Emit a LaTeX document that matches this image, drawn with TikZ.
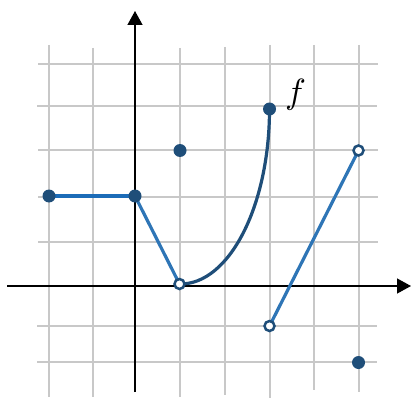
\documentclass[tikz,border=0pt]{standalone}
\usetikzlibrary{arrows.meta}
\definecolor{gridgray}{RGB}{200,200,200}
\definecolor{dotblue}{RGB}{31,78,121}
\definecolor{lineblue}{RGB}{28,108,184}
\definecolor{slopeblue}{RGB}{46,117,182}
\definecolor{curveblue}{RGB}{31,78,121}
\tikzset{
  gridline/.style={draw=gridgray, line width=1.5pt},
  axisline/.style={draw=black, line width=1.3pt, -{Triangle[length=14pt,width=15pt]}},
  fline/.style={line width=3.2pt, line cap=round},
  fullpt/.style={circle, fill=dotblue, inner sep=0pt, minimum size=13pt},
  openpt/.style={circle, draw=dotblue, fill=white, line width=2.5pt, inner sep=0pt, minimum size=10pt},
}
\begin{document}
\begin{tikzpicture}[x=1pt,y=-1pt]
\useasboundingbox (0,0) rectangle (411,398);
% grid verticals
\draw[gridline] (49,45) -- (49,397);
\draw[gridline] (93,48) -- (93,397);
\draw[gridline] (180,48) -- (180,397);
\draw[gridline] (225,47) -- (225,395);
\draw[gridline] (270,45) -- (270,398);
\draw[gridline] (314,45) -- (314,390);
\draw[gridline] (359,45) -- (359,392);
% grid horizontals
\draw[gridline] (38,64) -- (378,64);
\draw[gridline] (37,106) -- (377,106);
\draw[gridline] (38,150) -- (378,150);
\draw[gridline] (38,197) -- (378,197);
\draw[gridline] (38,242) -- (378,242);
\draw[gridline] (37,326) -- (377,326);
\draw[gridline] (37,362) -- (377,362);
% axes
\coordinate (xs) at (7,286);
\coordinate (xe) at (411,286);
\coordinate (ys) at (135,392);
\coordinate (ye) at (135,11);
\draw[axisline] (xs) -- (xe);
\draw[axisline] (ys) -- (ye);
% points
\coordinate (A) at (49,196);
\coordinate (B) at (135,196);
\coordinate (D) at (179.5,284);
\coordinate (E) at (269.5,109);
\coordinate (F) at (269.5,326);
\coordinate (G) at (358.5,150.5);
% graph pieces
\draw[fline, lineblue] (A) -- (B);
\draw[fline, slopeblue] (B) -- (D);
\draw[fline, curveblue] (D) .. controls (229,285) and (269.5,206) .. (E);
\draw[fline, slopeblue] (F) -- (G);
\node[fullpt] (pA) at (A) {};
\node[fullpt] (pB) at (B) {};
\node[fullpt] (pC) at (180,150.5) {};
\node[openpt] (pD) at (D) {};
\node[fullpt] (pE) at (E) {};
\node[openpt] (pF) at (F) {};
\node[openpt] (pG) at (G) {};
\node[fullpt] (pH) at (358.5,362.5) {};
\node[scale=3.5, inner sep=0pt] (lf) at (295.5,95) {$f$};
\end{tikzpicture}
\end{document}
